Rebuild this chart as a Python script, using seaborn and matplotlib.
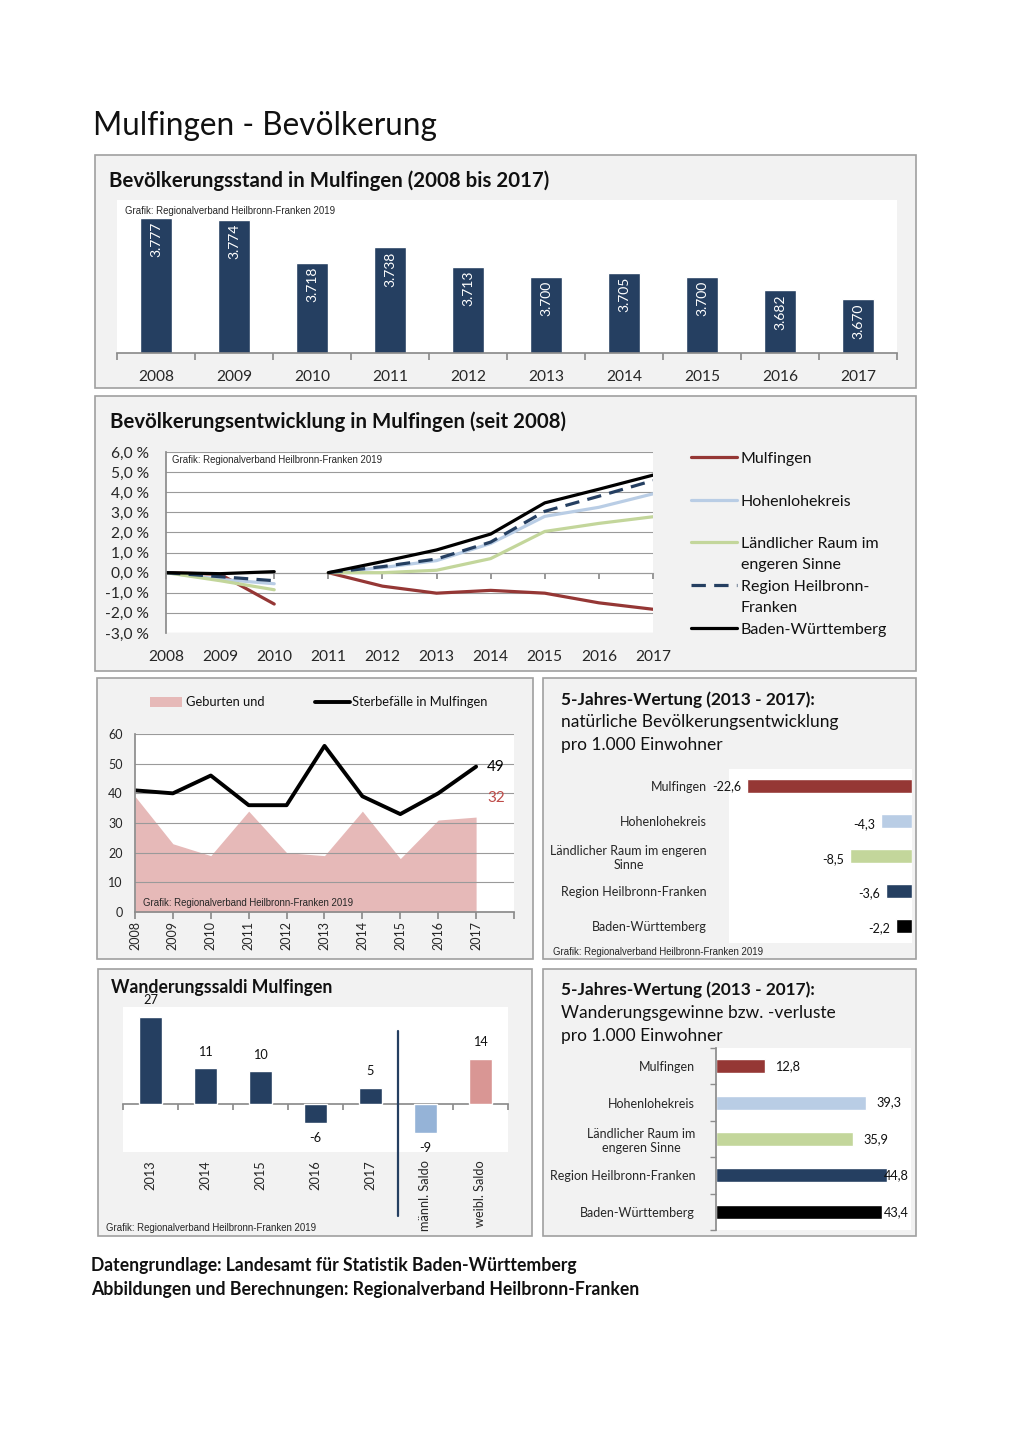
import numpy as np
import pandas as pd
import matplotlib
matplotlib.use("Agg")
import matplotlib.pyplot as plt
import seaborn as sns
from matplotlib.patches import Rectangle
from matplotlib.lines import Line2D

sns.set_theme(style="white")
plt.rcParams["font.family"] = ["Lato", "DejaVu Sans"]

# ---------------- data ----------------
years = ["2008", "2009", "2010", "2011", "2012", "2013", "2014", "2015", "2016", "2017"]
population = [3777, 3774, 3718, 3738, 3713, 3700, 3705, 3700, 3682, 3670]

dev_series = ["Mulfingen", "Hohenlohekreis", "Ländlicher Raum im engeren Sinne",
              "Region Heilbronn-Franken", "Baden-Württemberg"]
dev_legend = ["Mulfingen", "Hohenlohekreis", "Ländlicher Raum im\nengeren Sinne",
              "Region Heilbronn-\nFranken", "Baden-Württemberg"]
# 2008-2010 (relative to 2008) and 2011-2017 (relative to 2011), in %
dev_seg1 = {
    "Mulfingen": [0.0, -0.08, -1.56],
    "Hohenlohekreis": [0.0, -0.33, -0.55],
    "Ländlicher Raum im engeren Sinne": [0.0, -0.40, -0.85],
    "Region Heilbronn-Franken": [0.0, -0.20, -0.40],
    "Baden-Württemberg": [0.0, -0.05, 0.05],
}
dev_seg2 = {
    "Mulfingen": [0.0, -0.67, -1.02, -0.88, -1.02, -1.50, -1.82],
    "Hohenlohekreis": [0.0, 0.25, 0.60, 1.45, 2.80, 3.25, 3.92],
    "Ländlicher Raum im engeren Sinne": [0.0, 0.0, 0.12, 0.70, 2.05, 2.45, 2.78],
    "Region Heilbronn-Franken": [0.0, 0.30, 0.68, 1.52, 3.05, 3.80, 4.58],
    "Baden-Württemberg": [0.0, 0.55, 1.13, 1.92, 3.47, 4.15, 4.85],
}

births = [39, 23, 19, 34, 20, 19, 34, 18, 31, 32]
deaths = [41, 40, 46, 36, 36, 56, 39, 33, 40, 49]

regions = ["Mulfingen", "Hohenlohekreis", "Ländlicher Raum im engeren Sinne",
           "Region Heilbronn-Franken", "Baden-Württemberg"]
regions_nat_labels = ["Mulfingen", "Hohenlohekreis", "Ländlicher Raum im engeren\nSinne",
                      "Region Heilbronn-Franken", "Baden-Württemberg"]
regions_mig_labels = ["Mulfingen", "Hohenlohekreis", "Ländlicher Raum im\nengeren Sinne",
                      "Region Heilbronn-Franken", "Baden-Württemberg"]
natural_vals = [-22.6, -4.3, -8.5, -3.6, -2.2]
migration_vals = [12.8, 39.3, 35.9, 44.8, 43.4]

saldo_cats = ["2013", "2014", "2015", "2016", "2017", "männl. Saldo", "weibl. Saldo"]
saldo_vals = [27, 11, 10, -6, 5, -9, 14]

# ---------------- style ----------------
NAVY = "#253f61"
RED = "#953735"
LBLUE = "#b9cde5"
LGREEN = "#c3d69b"
PINK = "#e6b9b8"
PANEL = "#f2f2f2"
EDGE = "#a0a0a0"
AXC = "#8c8c8c"
GRID = "#9a9a9a"
TXT = "#111111"
region_colors = [RED, LBLUE, LGREEN, NAVY, "#000000"]
saldo_colors = [NAVY] * 5 + ["#95b3d7", "#d99694"]
SMALL = dict(family=["Liberation Sans", "DejaVu Sans"], fontsize=6.9, color="#262626")

W, H = 1020, 1443
fig = plt.figure(figsize=(W / 100, H / 100), dpi=100, facecolor="white")


def fx(x):
    return x / W


def fy(y):
    return 1 - y / H


def box(x0, y0, x1, y1):
    fig.patches.append(Rectangle((fx(x0), fy(y1)), (x1 - x0) / W, (y1 - y0) / H,
                                 transform=fig.transFigure, facecolor=PANEL,
                                 edgecolor=EDGE, lw=1.2, zorder=-5))


def axes(x0, y0, x1, y1):
    a = fig.add_axes([fx(x0), fy(y1), (x1 - x0) / W, (y1 - y0) / H])
    a.set_facecolor("white")
    return a


def txt(x, y, s, **kw):
    kw.setdefault("va", "center")
    kw.setdefault("ha", "left")
    kw.setdefault("color", TXT)
    fig.text(fx(x), fy(y), s, **kw)


def de(v, nd=1):
    return f"{v:.{nd}f}".replace(".", ",")


# main title
txt(93, 126, "Mulfingen - Bevölkerung", fontsize=22.7)

# ============ Panel 1: population bars ============
box(95, 155, 916, 388)
txt(109, 181, "Bevölkerungsstand in Mulfingen (2008 bis 2017)", fontsize=14.7,
    fontweight="bold")
ax1 = axes(117, 200, 897, 353)
sns.barplot(x=years, y=population, color=NAVY, saturation=1, width=0.41, ax=ax1)
ax1.set_ylim(3600, 3800)
ax1.set_xlim(-0.5, 9.5)
for s in ["top", "right", "left"]:
    ax1.spines[s].set_visible(False)
ax1.spines["bottom"].set_color(AXC)
ax1.set_yticks([])
ax1.set_xticks(np.arange(-0.5, 10, 1))
ax1.set_xticklabels([])
ax1.set_xticks(range(10), minor=True)
ax1.set_xticklabels(years, minor=True)
ax1.tick_params(axis="x", which="major", bottom=True, length=5, color=AXC, direction="out")
ax1.tick_params(axis="x", which="minor", bottom=True, length=0, pad=12.5, labelsize=11.2)
ax1.set_xlabel("")
ax1.set_ylabel("")
for i, v in enumerate(population):
    ax1.text(i, v - 5, f"{v:,}".replace(",", "."), rotation=90, ha="center", va="top",
             color="white", fontsize=10)
txt(125, 211, "Grafik: Regionalverband Heilbronn-Franken 2019", **SMALL)

# ============ Panel 2: development lines ============
box(95, 396, 916, 671)
txt(110, 422, "Bevölkerungsentwicklung in Mulfingen (seit 2008)", fontsize=14.7,
    fontweight="bold")
ax2 = axes(166, 452, 653, 633)
rows = []
for s in dev_series:
    for k, v in enumerate(dev_seg1[s]):
        rows.append(dict(x=k, v=v, series=s, seg=1))
    for k, v in enumerate(dev_seg2[s]):
        rows.append(dict(x=k + 3, v=v, series=s, seg=2))
df2 = pd.DataFrame(rows)
pal2 = dict(zip(dev_series, region_colors))
dash2 = {s: "" for s in dev_series}
dash2["Region Heilbronn-Franken"] = (4.5, 2.6)
sns.lineplot(data=df2, x="x", y="v", hue="series", style="series", units="seg",
             estimator=None, palette=pal2, dashes=dash2, hue_order=dev_series,
             style_order=dev_series, linewidth=2.3, legend=False, sort=False, ax=ax2)
ax2.set_ylim(-3, 6)
ax2.set_xlim(0, 9)
ax2.set_yticks(np.arange(-3, 7, 1))
ax2.set_yticklabels([de(v) + " %" for v in np.arange(-3, 7, 1)])
ax2.set_xticks(range(10))
ax2.set_xticklabels(years)
ax2.yaxis.grid(True, color=GRID, lw=0.8)
ax2.xaxis.grid(False)
ax2.set_axisbelow(True)
for s in ["top", "right", "bottom"]:
    ax2.spines[s].set_visible(False)
ax2.spines["left"].set_color(AXC)
ax2.tick_params(axis="y", length=0, pad=12, labelsize=11.2)
ax2.tick_params(axis="x", length=0, pad=12, labelsize=11.2)
ax2.set_xlabel("")
ax2.set_ylabel("")
sec2 = ax2.secondary_xaxis(1 / 3)
sec2.set_xticks(range(10))
sec2.set_xticklabels([])
sec2.tick_params(axis="x", bottom=True, length=4, color=AXC, direction="out")
sec2.spines["bottom"].set_color(GRID)
sec2.spines["bottom"].set_linewidth(0.8)
txt(172, 460, "Grafik: Regionalverband Heilbronn-Franken 2019", **SMALL)
# legend
leg_y = [457, 500, 542, 585, 628]
for (c, lab, y, s) in zip(region_colors, dev_legend, leg_y, dev_series):
    ls = (0, (4.5, 2.6)) if s == "Region Heilbronn-Franken" else "-"
    fig.add_artist(Line2D([fx(691), fx(737)], [fy(y), fy(y)], color=c, lw=2.3, ls=ls,
                          transform=fig.transFigure))
    fig.text(fx(741), fy(y - 5.5), lab, va="top", ha="left", fontsize=11.5,
             linespacing=1.65, color=TXT)

# ============ Panel 3: births & deaths ============
box(97, 678, 533, 959)
ax3 = axes(135, 734, 514, 912)
idx = np.arange(len(years))
ax3.fill_between(idx, births, color=PINK, lw=0, zorder=0.3)
sns.lineplot(x=idx, y=deaths, color="black", linewidth=2.8, ax=ax3)
ax3.set_ylim(0, 60)
ax3.set_xlim(0, 10)
ax3.set_yticks(range(0, 61, 10))
ax3.set_xticks(range(11))
ax3.set_xticklabels(years + [""], rotation=90)
ax3.yaxis.grid(True, color=GRID, lw=0.8)
ax3.set_axisbelow(True)
for s in ["top", "right"]:
    ax3.spines[s].set_visible(False)
for s in ["left", "bottom"]:
    ax3.spines[s].set_color(AXC)
ax3.tick_params(axis="y", length=0, pad=9, labelsize=9)
ax3.tick_params(axis="x", bottom=True, length=5, color=AXC, pad=1.5, labelsize=9)
ax3.set_xlabel("")
ax3.set_ylabel("")
ax3.annotate(str(deaths[-1]), (idx[-1], deaths[-1]), xytext=(8, 0),
             textcoords="offset points", ha="left", va="center", fontsize=11, color="black")
ax3.annotate(str(births[-1]), (idx[-1], 40), xytext=(8, -3),
             textcoords="offset points", ha="left", va="center", fontsize=11, color="#be4b48")
fig.patches.append(Rectangle((fx(150), fy(707)), 32 / W, 10 / H, transform=fig.transFigure,
                             facecolor=PINK, edgecolor="none"))
txt(186, 702, "Geburten und", fontsize=9.3)
fig.add_artist(Line2D([fx(315), fx(350)], [fy(702), fy(702)], color="black", lw=2.8,
                      transform=fig.transFigure))
txt(352, 702, "Sterbefälle in Mulfingen", fontsize=9.3)
txt(143, 903, "Grafik: Regionalverband Heilbronn-Franken 2019", **SMALL)

# ============ Panel 4: natural development ============
box(543, 678, 916, 959)
txt(561, 700, "5-Jahres-Wertung (2013 - 2017):", fontsize=12.4, fontweight="bold")
txt(561, 722, "natürliche Bevölkerungsentwicklung", fontsize=12.5)
txt(561, 745, "pro 1.000 Einwohner", fontsize=12.5)
ax4 = axes(729, 769, 912, 943)
sns.barplot(x=natural_vals, y=regions, hue=regions, palette=region_colors, orient="h",
            width=0.4, saturation=1, legend=False, ax=ax4)
ax4.set_xlim(-25, 0)
ax4.set_xticks([])
ax4.set_yticks(range(5))
ax4.set_yticklabels(regions_nat_labels)
for lbl in ax4.get_yticklabels():
    lbl.set_multialignment("center")
ax4.tick_params(axis="y", length=0, pad=16, labelsize=9)
for s in ["top", "left", "bottom", "right"]:
    ax4.spines[s].set_visible(False)
ax4.set_xlabel("")
ax4.set_ylabel("")
for i, v in enumerate(natural_vals):
    ax4.annotate(de(v), (v, i), xytext=(-4, 0 if i == 0 else -2), textcoords="offset points",
                 ha="right", va="center", fontsize=9, color=TXT)
txt(553, 952, "Grafik: Regionalverband Heilbronn-Franken 2019", **SMALL)

# ============ Panel 5: migration balance ============
box(98, 969, 532, 1236)
txt(111, 988, "Wanderungssaldi Mulfingen", fontsize=12.7, fontweight="bold")
ax5 = axes(123, 1007, 508, 1152)
sns.barplot(x=saldo_cats, y=saldo_vals, hue=saldo_cats, palette=saldo_colors, width=0.42,
            saturation=1, legend=False, ax=ax5)
ax5.set_ylim(-15, 30)
ax5.set_xlim(-0.5, 6.5)
ax5.set_yticks([])
ax5.set_xticks(range(7))
ax5.set_xticklabels(saldo_cats, rotation=90, va="top")
ax5.tick_params(axis="x", length=0, pad=6, labelsize=9.2)
for s in ["top", "left", "bottom", "right"]:
    ax5.spines[s].set_visible(False)
ax5.set_xlabel("")
ax5.set_ylabel("")
sec5 = ax5.secondary_xaxis(1 / 3)
sec5.set_xticks(np.arange(-0.5, 7, 1))
sec5.set_xticklabels([])
sec5.tick_params(axis="x", bottom=True, length=4, color=AXC, direction="out")
sec5.spines["bottom"].set_color(AXC)
ax5.axvline(4.5, ymin=-0.44, ymax=0.834, color=NAVY, lw=1.6, clip_on=False)
for i, v in enumerate(saldo_vals):
    off = 12 if v > 0 else -11
    ax5.annotate(str(v), (i, v), xytext=(0, off), textcoords="offset points",
                 ha="center", va="center", fontsize=9.2, color=TXT)
txt(106, 1228, "Grafik: Regionalverband Heilbronn-Franken 2019", **SMALL)

# ============ Panel 6: migration per 1000 ============
box(543, 969, 916, 1236)
txt(561, 990, "5-Jahres-Wertung (2013 - 2017):", fontsize=12.4, fontweight="bold")
txt(561, 1013, "Wanderungsgewinne bzw. -verluste", fontsize=12.5)
txt(561, 1036, "pro 1.000 Einwohner", fontsize=12.5)
ax6 = axes(716, 1048, 911, 1230)
sns.barplot(x=migration_vals, y=regions, hue=regions, palette=region_colors, orient="h",
            width=0.39, saturation=1, legend=False, ax=ax6)
ax6.set_xlim(0, 51)
ax6.set_xticks([])
ax6.set_yticks(range(5))
ax6.set_yticklabels(regions_mig_labels)
for lbl in ax6.get_yticklabels():
    lbl.set_multialignment("center")
ax6.set_yticks(np.arange(-0.5, 5, 1), minor=True)
ax6.tick_params(axis="y", which="major", length=0, pad=15, labelsize=9)
ax6.tick_params(axis="y", which="minor", left=True, length=4, color=AXC, direction="out")
for s in ["top", "bottom", "right"]:
    ax6.spines[s].set_visible(False)
ax6.spines["left"].set_color(AXC)
ax6.set_xlabel("")
ax6.set_ylabel("")
for i, v in enumerate(migration_vals):
    ax6.text(min(v + 2.6, 44.0), i, de(v), ha="left", va="center", fontsize=9.2,
             color=TXT)

# footer
txt(91, 1265, "Datengrundlage: Landesamt für Statistik Baden-Württemberg", fontsize=12.7,
    fontweight="bold")
txt(91, 1290, "Abbildungen und Berechnungen: Regionalverband Heilbronn-Franken", fontsize=12.7,
    fontweight="bold")

fig.savefig("out.png", dpi=100, facecolor="white")
